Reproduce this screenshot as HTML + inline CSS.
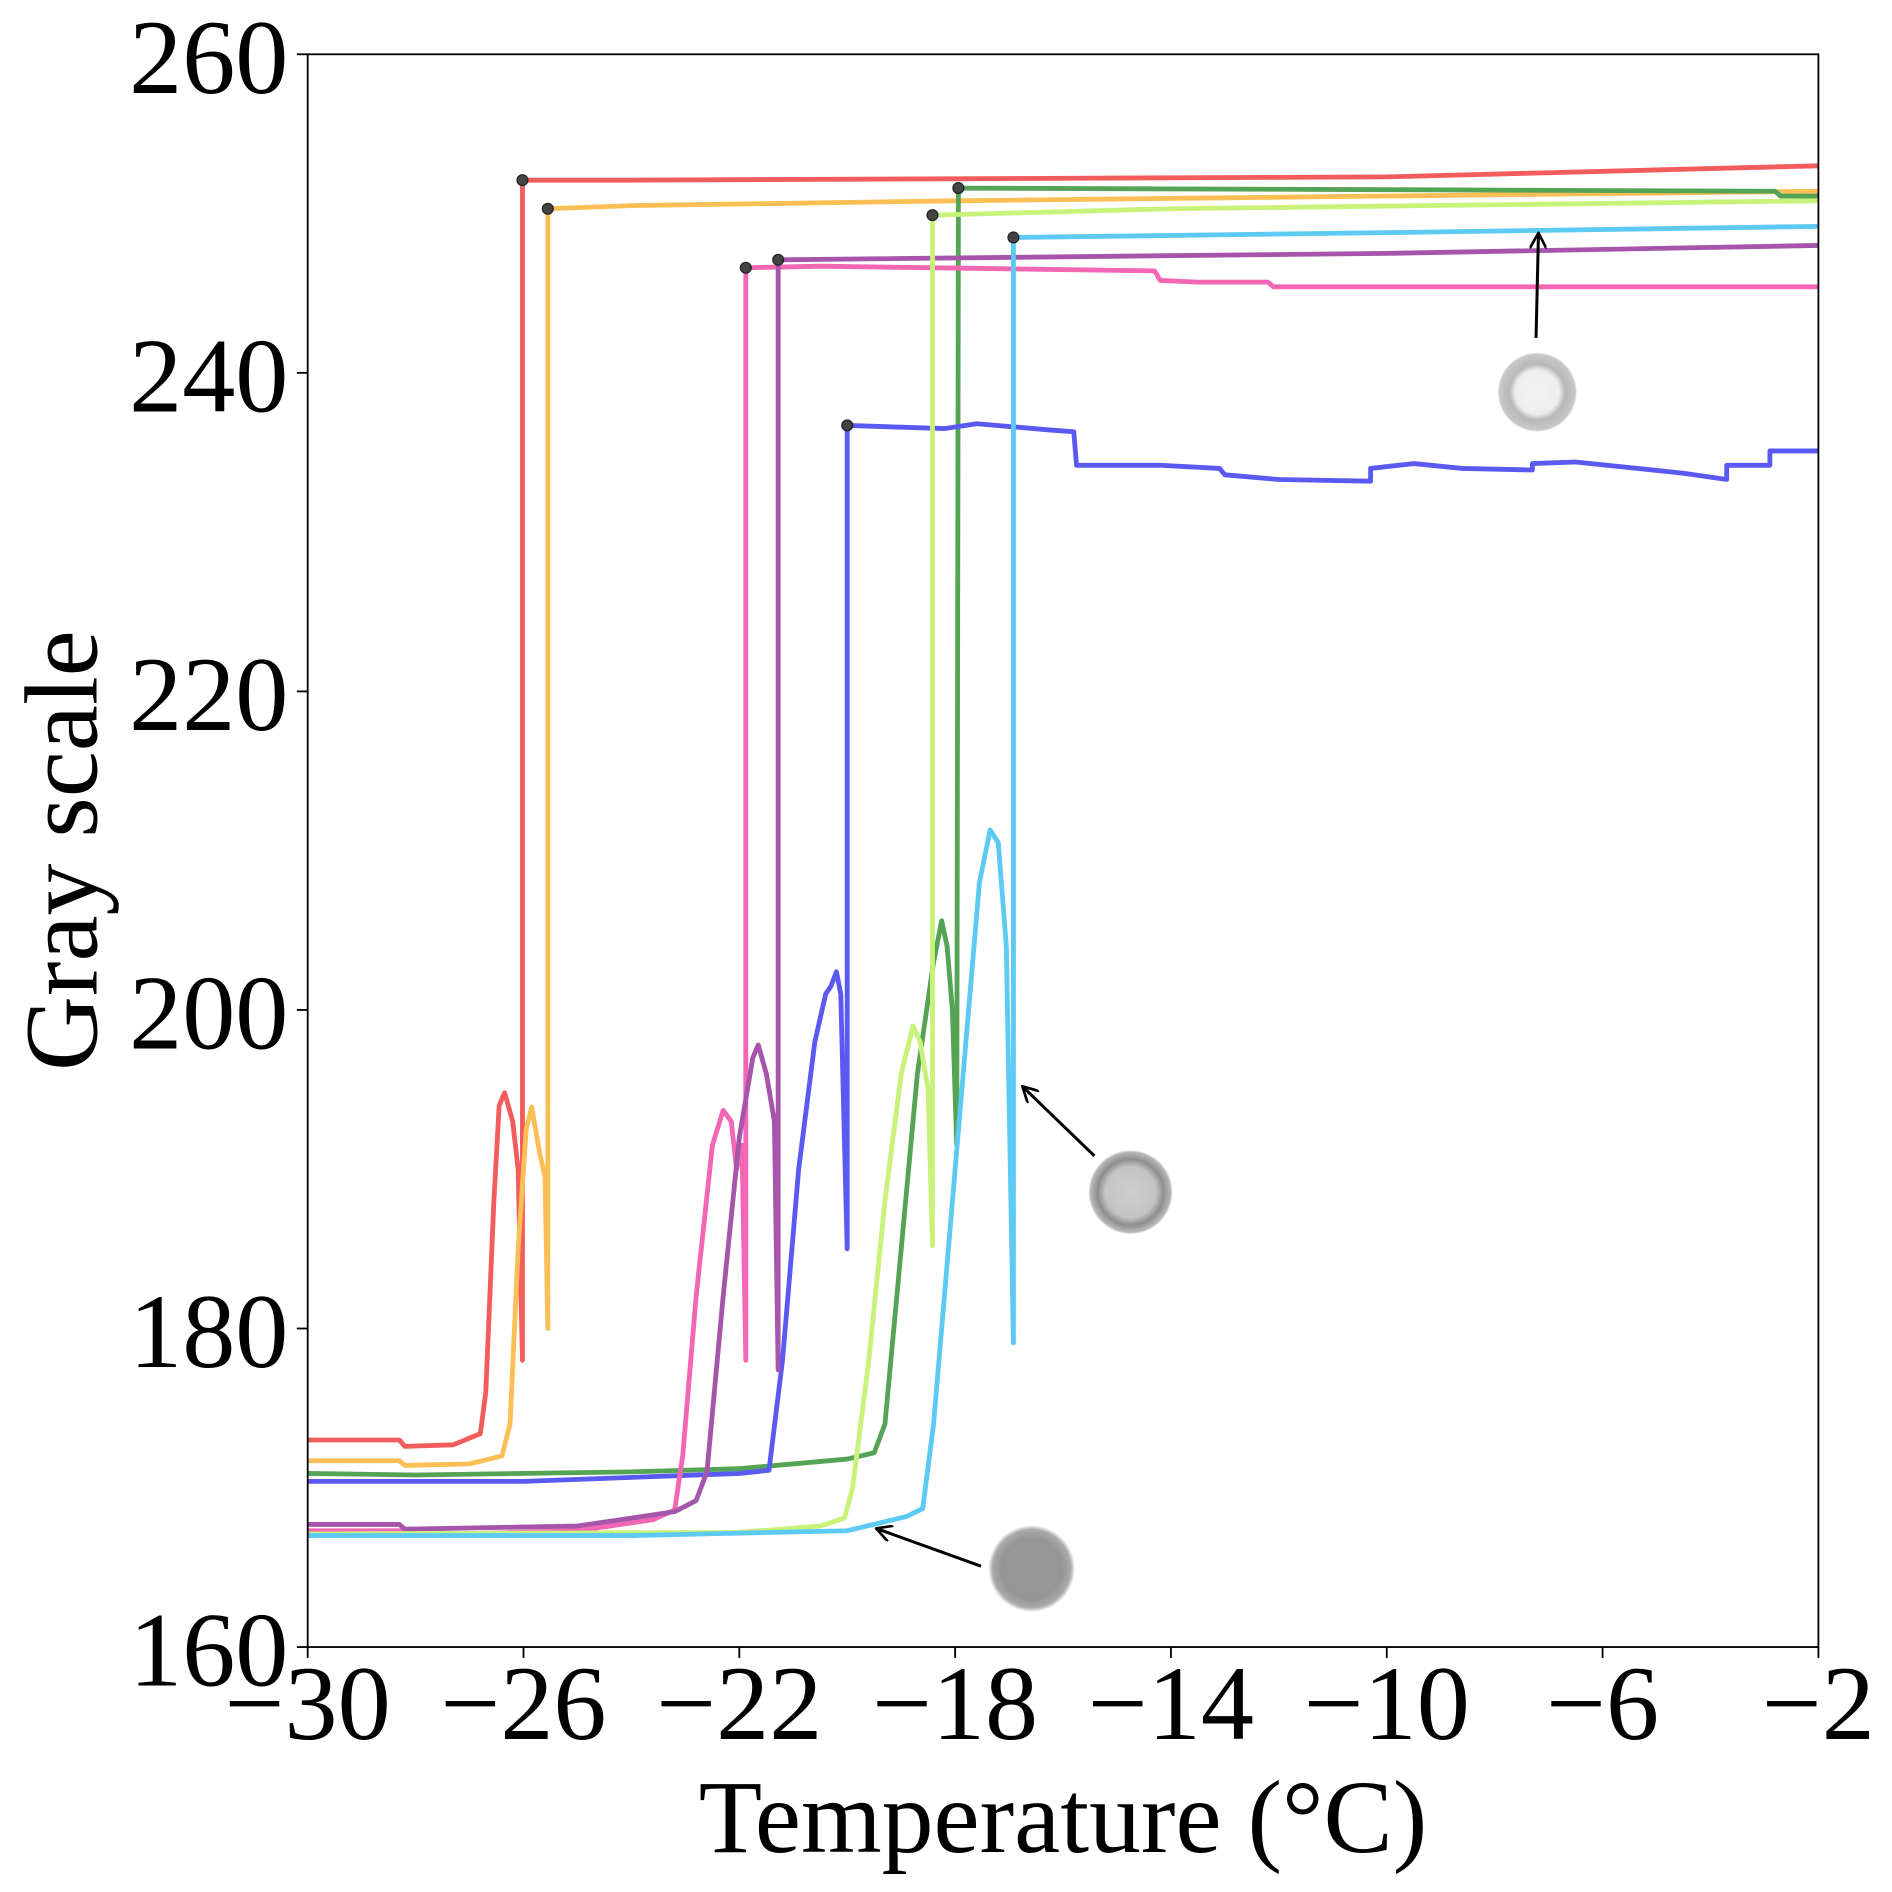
<!DOCTYPE html>
<html><head><meta charset="utf-8"><style>
html,body{margin:0;padding:0;background:#fff;}
svg{display:block;}
text{font-family:"Liberation Serif",serif;fill:#000;}
</style></head><body>
<svg id="chart" width="1892" height="1892" viewBox="0 0 1568 1568" xmlns="http://www.w3.org/2000/svg">
<defs>
<radialGradient id="dropA" cx="50%" cy="50%" r="50%">
<stop offset="0" stop-color="#f4f4f4"/><stop offset="0.55" stop-color="#eeeeee"/><stop offset="0.7" stop-color="#b8b8b8"/><stop offset="0.95" stop-color="#c8c8c8"/><stop offset="1" stop-color="#fff"/>
</radialGradient>
<radialGradient id="dropB" cx="50%" cy="50%" r="50%">
<stop offset="0" stop-color="#cfcfcf"/><stop offset="0.6" stop-color="#c4c4c4"/><stop offset="0.78" stop-color="#8e8e8e"/><stop offset="0.95" stop-color="#b8b8b8"/><stop offset="1" stop-color="#fff"/>
</radialGradient>
<radialGradient id="dropC" cx="50%" cy="50%" r="50%">
<stop offset="0" stop-color="#9a9a9a"/><stop offset="0.7" stop-color="#959595"/><stop offset="0.9" stop-color="#aaaaaa"/><stop offset="1" stop-color="#fff"/>
</radialGradient>
<marker id="arr" markerWidth="14" markerHeight="14" refX="12" refY="7" orient="auto" markerUnits="userSpaceOnUse">
<path d="M0,0 L13,7 L0,14" fill="none" stroke="#000" stroke-width="2.2"/>
</marker>
</defs>
<g id="plot"></g>
</svg>
<script>
const xTicks = [-30,-26,-22,-18,-14,-10,-6,-2];
const yTicks = [160,180,200,220,240,260];
const seriesNames = ["red","orange","green","blue","pink","purple","lime","cyan"];
const seriesColors = ["#f25c5c","#fcbf55","#55a455","#5a5af2","#f266b4","#a656aa","#c8f27a","#5ccaf2"];
const redT=[-30,-28.3,-28.2,-27.3,-26.8,-26.7,-26.55,-26.45,-26.35,-26.2,-26.1,-26.02,-26.02,-24,-10,-2];
const redG=[173.0,173.0,172.6,172.7,173.4,176,188,194,194.8,193,190,178,252.1,252.1,252.3,253.0];
const orangeT=[-30,-28.3,-28.2,-27,-26.4,-26.25,-26.1,-25.95,-25.85,-25.7,-25.6,-25.55,-25.55,-24,-18,-2];
const orangeG=[171.7,171.7,171.4,171.5,172,174,185,192.5,193.9,191,189.5,180,250.3,250.5,250.8,251.4];
const greenT=[-30,-28,-24,-22,-20,-19.5,-19.3,-19,-18.7,-18.4,-18.25,-18.15,-18.05,-17.97,-17.94,-10,-2.8,-2.7,-2];
const greenG=[170.9,170.8,171.0,171.2,171.8,172.2,174,185,196,203,205.6,204,200,191.5,251.6,251.5,251.4,251.1,251.1];
const blueT=[-30,-26,-22,-21.45,-21.2,-20.9,-20.6,-20.4,-20.3,-20.2,-20.12,-20.0,-20.0,-18.2,-17.6,-16.2,-15.8,-15.75,-14.2,-13.1,-13.0,-12.0,-10.3,-10.3,-9.5,-8.6,-7.3,-7.3,-6.5,-4.5,-3.7,-3.7,-2.9,-2.9,-2];
const blueG=[170.4,170.4,170.9,171.1,178,190,198,201,201.5,202.4,201,185,236.7,236.5,236.8,236.4,236.3,234.2,234.2,234.0,233.6,233.3,233.2,234.0,234.3,234.0,233.9,234.3,234.4,233.7,233.3,234.2,234.2,235.1,235.1];
const pinkT=[-30,-28.3,-28.2,-25,-23.6,-23.2,-23.05,-22.8,-22.5,-22.3,-22.15,-22.05,-21.95,-21.88,-21.88,-20.5,-14.3,-14.2,-13.5,-12.2,-12.1,-2];
const pinkG=[167.3,167.3,167.0,167.3,168.0,168.6,172,182,191.5,193.7,193,190,191.5,178,246.6,246.7,246.4,245.8,245.7,245.7,245.4,245.4];
const purpleT=[-30,-28.3,-28.2,-25,-23.2,-22.8,-22.6,-22.3,-22,-21.75,-21.65,-21.5,-21.35,-21.28,-21.28,-10,-2];
const purpleG=[167.7,167.7,167.4,167.6,168.5,169.2,171,182,192,197,197.8,196,193,177.4,247.1,247.5,248.0];
const limeT=[-30,-22,-20.5,-20.05,-19.9,-19.6,-19.3,-19.0,-18.78,-18.65,-18.5,-18.42,-18.42,-14,-2];
const limeG=[167.1,167.2,167.6,168.1,170,178,188,196,199,198,195,185.2,249.9,250.3,250.8];
const cyanT=[-30,-24,-20,-18.9,-18.6,-18.4,-18.1,-17.8,-17.55,-17.35,-17.2,-17.05,-16.92,-16.92,-10,-2];
const cyanG=[167.0,167.0,167.3,168.2,168.7,174,186,198,208,211.3,210.5,204,179.1,248.5,248.8,249.2];
const freezeT=[-26.02,-25.55,-17.94,-20.0,-21.88,-21.28,-18.42,-16.92];
const freezeG=[252.1,250.3,251.6,236.7,246.6,247.1,249.9,248.5];

const L=255,R=1507,T=45,B=1365;
const xs=v=>L+(v+30)/28*(R-L);
const ys=v=>B-(v-160)/100*(B-T);
const NS="http://www.w3.org/2000/svg";
const g=document.getElementById('plot');
function mk(tag,attrs,parent){const e=document.createElementNS(NS,tag);for(const k in attrs)e.setAttribute(k,attrs[k]);(parent||g).appendChild(e);return e;}

const allT=[redT,orangeT,greenT,blueT,pinkT,purpleT,limeT,cyanT];
const allG=[redG,orangeG,greenG,blueG,pinkG,purpleG,limeG,cyanG];
for(let s=0;s<allT.length;s++){
  const d=allT[s].map((t,i)=>(i?'L':'M')+xs(t).toFixed(1)+','+ys(allG[s][i]).toFixed(1)).join(' ');
  const p=mk('path',{d:d,fill:'none',stroke:seriesColors[s],'stroke-width':4,'stroke-linejoin':'round'});
  
  
}
for(let s=0;s<freezeT.length;s++){
  const c=mk('circle',{cx:xs(freezeT[s]),cy:ys(freezeG[s]),r:4.5,fill:'#444',stroke:'#222','stroke-width':1});
  
  
}
const fr=mk('rect',{x:L,y:T,width:R-L,height:B-T,fill:'none',stroke:'#000','stroke-width':1.5});


for(const v of xTicks){
  const x=xs(v);
  const tk=mk('line',{x1:x,x2:x,y1:B,y2:B+9,stroke:'#000','stroke-width':1.5});
  
  
  const tx=mk('text',{x:x,y:B+76,'text-anchor':'middle','font-size':88});
  tx.textContent='\u2212'+Math.abs(v);
  
  
}
for(const v of yTicks){
  const y=ys(v);
  const tk=mk('line',{x1:L-9,x2:L,y1:y,y2:y,stroke:'#000','stroke-width':1.5});
  
  
  const tx=mk('text',{x:L-16,y:y+32,'text-anchor':'end','font-size':88});
  tx.textContent=String(v);
  
  
}
const xt=mk('text',{x:881,y:1535,'text-anchor':'middle','font-size':86});
xt.textContent='Temperature (°C)';


const yt=mk('text',{x:0,y:0,'text-anchor':'middle','font-size':86,transform:'translate(80,705) rotate(-90)'});
yt.textContent='Gray scale';



const a1=mk('line',{x1:1273,y1:280,x2:1275,y2:194,stroke:'#000','stroke-width':2.5,'marker-end':'url(#arr)'});


const d1=mk('circle',{cx:1274,cy:325,r:33,fill:'url(#dropA)'});


const a2=mk('line',{x1:907,y1:958,x2:848,y2:901,stroke:'#000','stroke-width':2.5,'marker-end':'url(#arr)'});


const d2=mk('circle',{cx:937,cy:988,r:35,fill:'url(#dropB)'});


const a3=mk('line',{x1:813,y1:1298,x2:727,y2:1267,stroke:'#000','stroke-width':2.5,'marker-end':'url(#arr)'});


const d3=mk('circle',{cx:855,cy:1300,r:36,fill:'url(#dropC)'});


</script>
</body></html>
